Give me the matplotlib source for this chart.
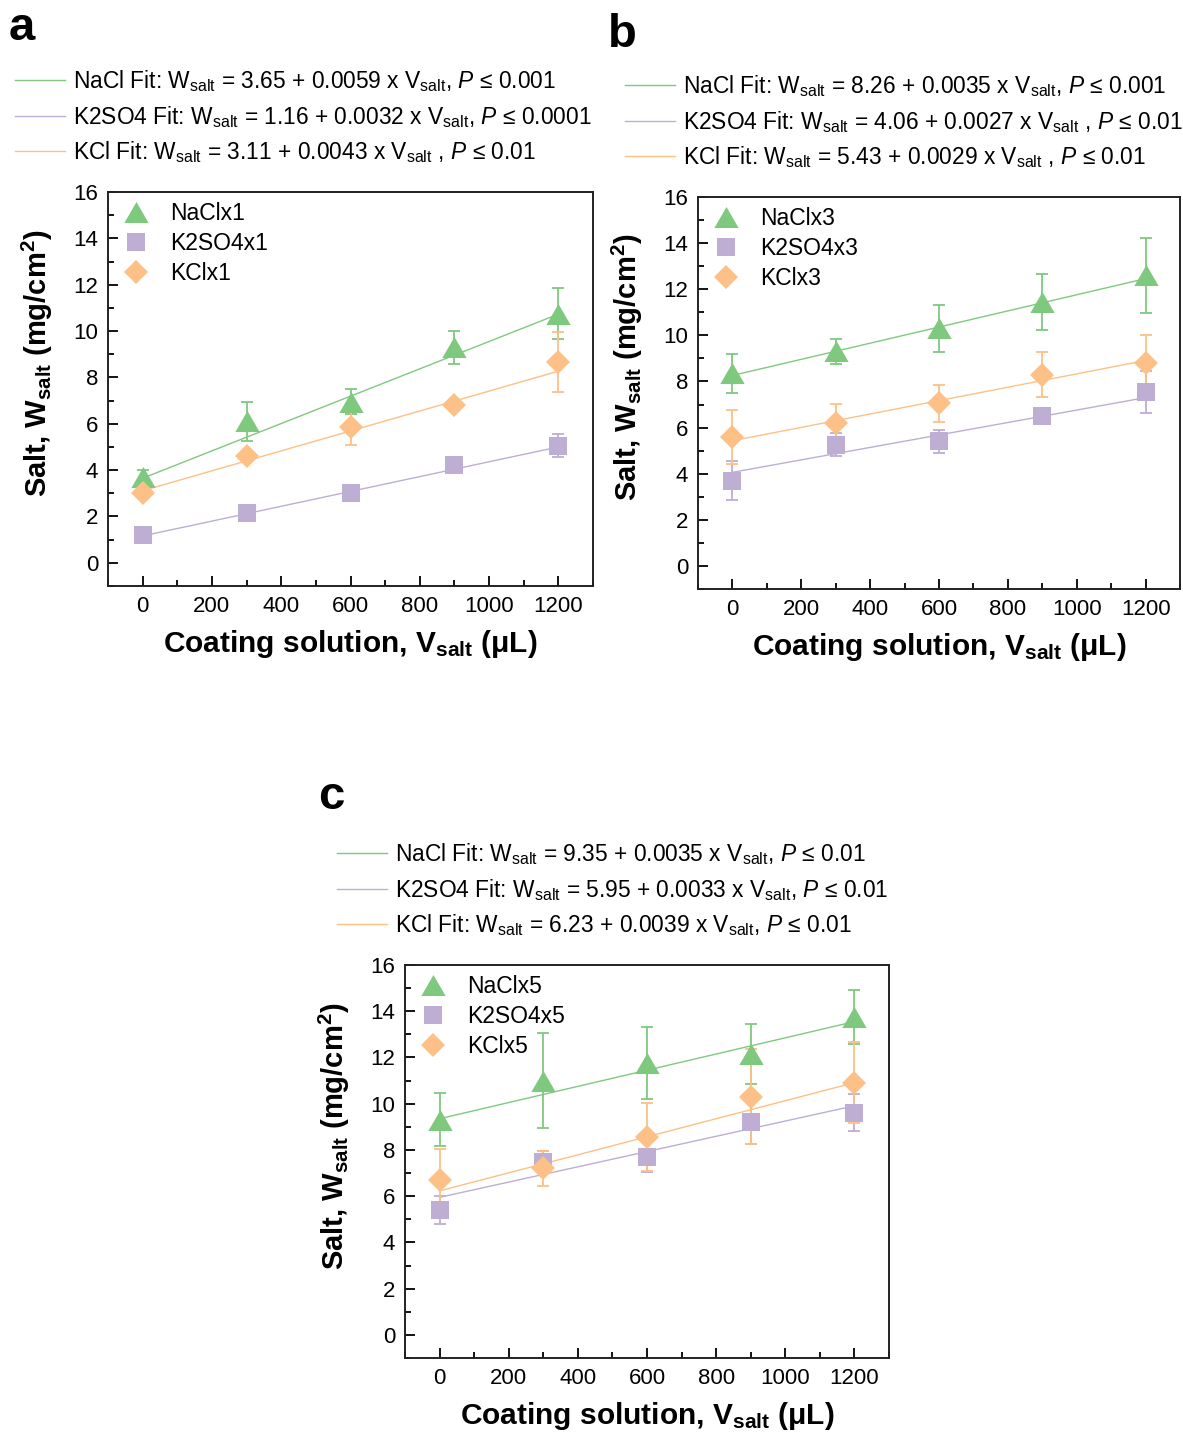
import matplotlib
matplotlib.use("Agg")
import matplotlib.pyplot as plt
import numpy as np
from matplotlib.path import Path
from matplotlib.ticker import MultipleLocator

plt.rcParams['font.family'] = ['Liberation Sans', 'DejaVu Sans']
plt.rcParams['mathtext.fontset'] = 'custom'
plt.rcParams['mathtext.rm'] = 'Liberation Sans'
plt.rcParams['mathtext.it'] = 'Liberation Sans:italic'
plt.rcParams['mathtext.bf'] = 'Liberation Sans:bold'

# ---------------- data ----------------
volumes = [0, 300, 600, 900, 1200]

nacl_1 = [3.7, 6.1, 6.95, 9.3, 10.75]
nacl_1_err = [0.3, 0.85, 0.55, 0.7, 1.1]
k2so4_1 = [1.2, 2.15, 3.0, 4.2, 5.05]
k2so4_1_err = [0.1, 0.1, 0.15, 0.1, 0.5]
kcl_1 = [3.0, 4.6, 5.85, 6.8, 8.65]
kcl_1_err = [0.15, 0.2, 0.75, 0.15, 1.3]

nacl_3 = [8.35, 9.3, 10.3, 11.45, 12.6]
nacl_3_err = [0.85, 0.55, 1.03, 1.2, 1.63]
k2so4_3 = [3.7, 5.25, 5.4, 6.5, 7.55]
k2so4_3_err = [0.85, 0.5, 0.5, 0.1, 0.92]
kcl_3 = [5.6, 6.2, 7.05, 8.3, 8.8]
kcl_3_err = [1.16, 0.82, 0.8, 0.97, 1.23]

nacl_5 = [9.3, 11.0, 11.75, 12.15, 13.75]
nacl_5_err = [1.15, 2.07, 1.55, 1.3, 1.15]
k2so4_5 = [5.4, 7.5, 7.7, 9.2, 9.6]
k2so4_5_err = [0.6, 0.45, 0.64, 0.93, 0.8]
kcl_5 = [6.7, 7.2, 8.55, 10.3, 10.9]
kcl_5_err = [1.33, 0.75, 1.48, 2.06, 1.75]

# fit coefficients (intercept, slope) as printed in the chart
fit_intercepts_1 = [3.65, 1.16, 3.11]
fit_slopes_1 = [0.0059, 0.0032, 0.0043]
fit_intercepts_3 = [8.26, 4.06, 5.43]
fit_slopes_3 = [0.0035, 0.0027, 0.0029]
fit_intercepts_5 = [9.35, 5.95, 6.23]
fit_slopes_5 = [0.0035, 0.0033, 0.0039]

fit_labels_1 = [
    r"NaCl Fit: W$_{\rm salt}$ = 3.65 + 0.0059 x V$_{\rm salt}$, $P$ ≤ 0.001",
    r"K2SO4 Fit: W$_{\rm salt}$ = 1.16 + 0.0032 x V$_{\rm salt}$, $P$ ≤ 0.0001",
    r"KCl Fit: W$_{\rm salt}$ = 3.11 + 0.0043 x V$_{\rm salt}$ , $P$ ≤ 0.01",
]
fit_labels_3 = [
    r"NaCl Fit: W$_{\rm salt}$ = 8.26 + 0.0035 x V$_{\rm salt}$, $P$ ≤ 0.001",
    r"K2SO4 Fit: W$_{\rm salt}$ = 4.06 + 0.0027 x V$_{\rm salt}$ , $P$ ≤ 0.01",
    r"KCl Fit: W$_{\rm salt}$ = 5.43 + 0.0029 x V$_{\rm salt}$ , $P$ ≤ 0.01",
]
fit_labels_5 = [
    r"NaCl Fit: W$_{\rm salt}$ = 9.35 + 0.0035 x V$_{\rm salt}$, $P$ ≤ 0.01",
    r"K2SO4 Fit: W$_{\rm salt}$ = 5.95 + 0.0033 x V$_{\rm salt}$, $P$ ≤ 0.01",
    r"KCl Fit: W$_{\rm salt}$ = 6.23 + 0.0039 x V$_{\rm salt}$, $P$ ≤ 0.01",
]
series_names_1 = ["NaClx1", "K2SO4x1", "KClx1"]
series_names_3 = ["NaClx3", "K2SO4x3", "KClx3"]
series_names_5 = ["NaClx5", "K2SO4x5", "KClx5"]

colors = ["#7FC97F", "#BEAED4", "#FDC086"]

tri = Path([(-0.5, -0.433), (0.5, -0.433), (0.0, 0.433), (-0.5, -0.433)],
           [Path.MOVETO, Path.LINETO, Path.LINETO, Path.CLOSEPOLY])
markers = [tri, 's', 'D']
msizes = [17.5, 13, 12]

W, H = 1183, 1437
fig = plt.figure(figsize=(W / 100, H / 100), dpi=100)


def px_axes(l, r, t, b):
    return fig.add_axes([l / W, 1 - b / H, (r - l) / W, (b - t) / H])


def panel(ax, ys, errs, names, ints, slopes, flabels, ylabel, xlabel, fit_anchor):
    xs = np.array(volumes, dtype=float)
    fit_lines = []
    mark_handles = []
    xfit = np.array([volumes[0], volumes[-1]], dtype=float)
    for i in range(3):
        ln, = ax.plot(xfit, ints[i] + slopes[i] * xfit, color=colors[i], lw=1.0, zorder=2)
        fit_lines.append(ln)
    for i in range(3):
        ax.errorbar(xs, ys[i], yerr=errs[i], fmt='none', ecolor=colors[i],
                    elinewidth=1.3, capsize=4, capthick=1.3, zorder=3)
        mk, = ax.plot(xs, ys[i], ls='none', marker=markers[i], ms=msizes[i],
                      color=colors[i], mec=colors[i], mew=0, zorder=4)
        mark_handles.append(mk)
    ax.set_xlim(-100, 1300)
    ax.set_ylim(-1, 16)
    ax.xaxis.set_major_locator(MultipleLocator(200))
    ax.xaxis.set_minor_locator(MultipleLocator(100))
    ax.yaxis.set_major_locator(MultipleLocator(2))
    ax.yaxis.set_minor_locator(MultipleLocator(1))
    ax.tick_params(which='both', direction='in', width=1.3, labelsize=16,
                   top=False, right=False)
    ax.tick_params(which='major', length=7, pad=7)
    ax.tick_params(which='minor', length=4)
    for s in ax.spines.values():
        s.set_linewidth(1.4)
        s.set_color('#222222')
    ax.set_ylabel(ylabel, fontsize=21, fontweight='bold')
    ax.yaxis.set_label_coords(-0.11, 0.565)
    ax.set_xlabel(xlabel, fontsize=21.5, fontweight='bold', labelpad=8)

    leg1 = ax.legend(mark_handles, names, loc='upper left', frameon=False,
                     fontsize=16.5, borderaxespad=0.25, handletextpad=0.75,
                     labelspacing=0.3, handlelength=1.5, borderpad=0.2)
    ax.add_artist(leg1)
    ax.legend(fit_lines, flabels, loc='lower left', bbox_to_anchor=fit_anchor,
              frameon=False, fontsize=16.4, handlelength=2.2, handletextpad=0.35,
              labelspacing=0.43, borderpad=0, borderaxespad=0)


ax_a = px_axes(108, 593, 192, 586)
ax_b = px_axes(698, 1180, 197, 589)
ax_c = px_axes(405, 889, 965, 1358)

panel(ax_a, [nacl_1, k2so4_1, kcl_1], [nacl_1_err, k2so4_1_err, kcl_1_err],
      series_names_1, fit_intercepts_1, fit_slopes_1, fit_labels_1,
      r"Salt, W$_{\bf salt}$ (mg/cm$^{\bf 2}$)",
      r"Coating solution, V$_{\bf salt}$ (μL)", (-0.192, 1.068))
panel(ax_b, [nacl_3, k2so4_3, kcl_3], [nacl_3_err, k2so4_3_err, kcl_3_err],
      series_names_3, fit_intercepts_3, fit_slopes_3, fit_labels_3,
      r"Salt, W$_{\bf salt}$ (mg/cm$^{\bf 2}$)",
      r"Coating solution, V$_{\bf salt}$ (μL)", (-0.151, 1.068))
panel(ax_c, [nacl_5, k2so4_5, kcl_5], [nacl_5_err, k2so4_5_err, kcl_5_err],
      series_names_5, fit_intercepts_5, fit_slopes_5, fit_labels_5,
      r"Salt, W$_{\bf salt}$ (mg/cm$^{\bf 2}$)",
      r"Coating solution, V$_{\bf salt}$ (μL)", (-0.141, 1.068))

fig.text(22 / W, 1 - 28 / H, "a", fontsize=34, fontweight='bold', ha='center', va='center')
fig.text(622 / W, 1 - 35 / H, "b", fontsize=34, fontweight='bold', ha='center', va='center')
fig.text(331 / W, 1 - 797 / H, "c", fontsize=34, fontweight='bold', ha='center', va='center')

fig.savefig("out.png", dpi=100)
